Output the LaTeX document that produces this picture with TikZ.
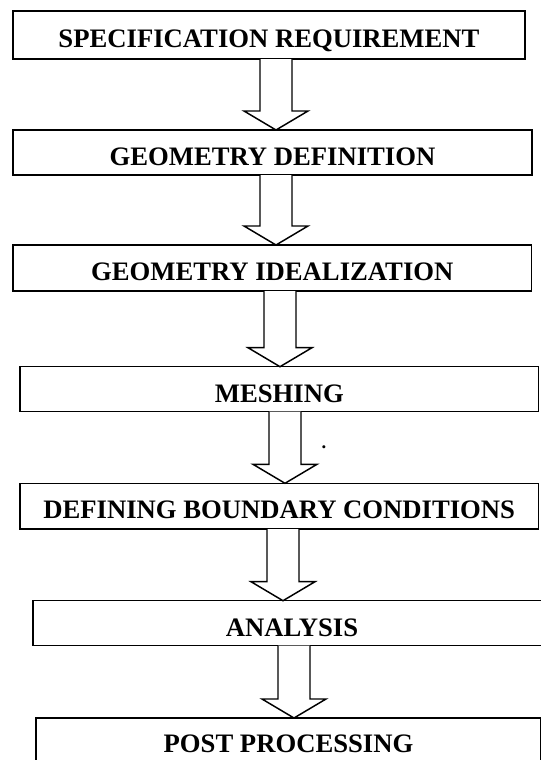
\documentclass[tikz,border=0pt]{standalone}
\usepackage{fontspec}
\setmainfont{Liberation Serif}
\usetikzlibrary{calc}
\begin{document}
\begin{tikzpicture}[x=0.75pt,y=-0.75pt,
  stepbox/.style={draw=black,line width=1.1pt,rectangle,inner sep=0pt,outer sep=0pt,
    font=\bfseries\fontsize{20pt}{24pt}\selectfont,text height=19.2pt,text depth=0pt},
  barrow/.style={draw=black,line width=1.1pt,fill=white,line join=miter}]
\useasboundingbox (0,0) rectangle (541,760);
\clip (0,0) rectangle (541,760);
\node[stepbox,minimum width=512*0.75pt,minimum height=48*0.75pt] (b1) at (269,35) {SPECIFICATION REQUIREMENT};
\node[stepbox,minimum width=519*0.75pt,minimum height=45*0.75pt] (b2) at (272.5,152.5) {GEOMETRY DEFINITION};
\node[stepbox,minimum width=518.5*0.75pt,minimum height=46*0.75pt] (b3) at (272.25,268) {GEOMETRY IDEALIZATION};
\node[stepbox,minimum width=518.6*0.75pt,minimum height=45*0.75pt] (b4) at (279.3,389.2) {MESHING};
\node[stepbox,minimum width=518.5*0.75pt,minimum height=45.7*0.75pt] (b5) at (279.25,506.15) {DEFINING BOUNDARY CONDITIONS};
\node[stepbox,minimum width=518.4*0.75pt,minimum height=45*0.75pt] (b6) at (292,623.2) {ANALYSIS};
\node[stepbox,minimum width=505*0.75pt,minimum height=44*0.75pt] (b7) at (288.5,740) {POST PROCESSING};
\node[font=\bfseries\fontsize{14pt}{16pt}\selectfont,anchor=base,inner sep=0pt] (dot) at (324,448) {.};
\newcommand{\blockarrow}[4]{%
  \coordinate (#4) at (#3,0);
  \draw[barrow] ($(#4 |- #1.south)+(-16,0)$) -- ($(#4 |- #2.north)+(-16,-19)$)
    -- ($(#4 |- #2.north)+(-32,-19)$) -- (#4 |- #2.north)
    -- ($(#4 |- #2.north)+(32,-19)$) -- ($(#4 |- #2.north)+(16,-19)$)
    -- ($(#4 |- #1.south)+(16,0)$);}
\blockarrow{b1}{b2}{276}{a1}
\blockarrow{b2}{b3}{276}{a2}
\blockarrow{b3}{b4}{280}{a3}
\blockarrow{b4}{b5}{285}{a4}
\blockarrow{b5}{b6}{283}{a5}
\blockarrow{b6}{b7}{294}{a6}
\end{tikzpicture}
\end{document}
